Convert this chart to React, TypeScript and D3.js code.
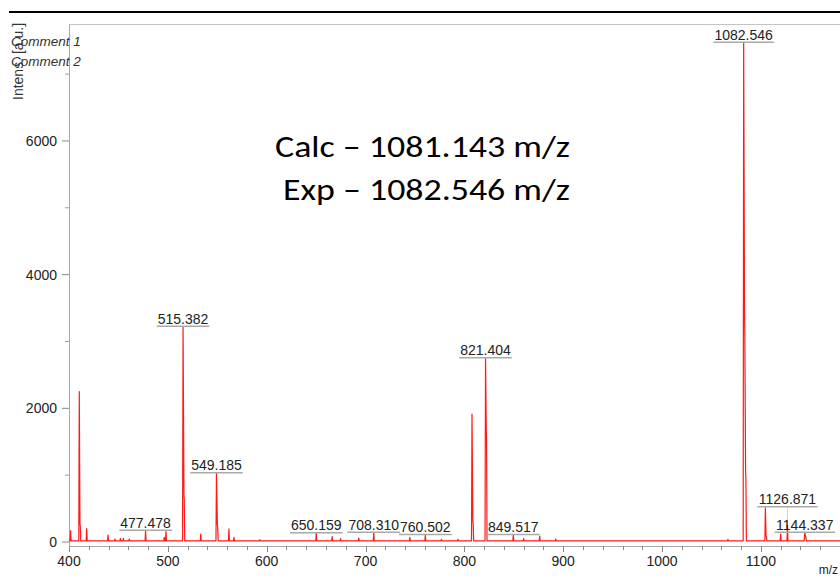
import React from 'react';
import * as d3 from 'd3';

const W = 840;
const H = 576;

// Labelled peaks: m/z and intensity (a.u.)
const labelMz = [477.478, 515.382, 549.185, 650.159, 708.31, 760.502, 821.404, 849.517, 1082.546, 1126.871, 1144.337];
const labelIntensity = [170, 3220, 1028, 130, 140, 105, 2748, 105, 7470, 250, 140];
// Extra upward shift (px) for labels moved to avoid a neighbour
const labelLift = [0, 0, 0, 0, 0, 0, 0, 0, 0, 18, 0];

// Unlabelled peaks
const minorMz = [401.6, 410.4, 417.9, 439.5, 446.5, 452.0, 455.0, 461.0, 496.4, 498.1, 533.3, 561.8, 566.9, 593.0, 666.2, 674.7, 693.2, 744.8, 776.8, 793.6, 807.7, 860.0, 876.2, 892.4, 1066.6, 1104.5, 1120.0];
const minorIntensity = [170, 2250, 200, 105, 45, 55, 55, 45, 70, 155, 120, 195, 70, 35, 80, 50, 60, 70, 40, 40, 1915, 50, 90, 45, 40, 510, 120];

// Isotope shoulders on the trailing edge of peaks
const shoulderMz = [411.2, 516.4, 550.2, 808.7, 822.2, 1083.5, 1084.6, 1105.3, 1145.3];
const shoulderIntensity = [270, 700, 260, 300, 1740, 3470, 1050, 90, 80];

const yTicks = [0, 2000, 4000, 6000];
const yMinorTicks = [1000, 3000, 5000, 7000];
const xTicks = [400, 500, 600, 700, 800, 900, 1000, 1100];

const BASELINE = 18;

const x = d3.scaleLinear().domain([400, 1180]).range([69, 840]);
const y = d3.scaleLinear().domain([0, 7000]).range([542, 74.1]);

type Pt = [number, number];

function buildTrace(): Pt[] {
  const apexes: Pt[] = [
    ...labelMz.map((m, i) => [m, labelIntensity[i]] as Pt),
    ...minorMz.map((m, i) => [m, minorIntensity[i]] as Pt),
  ].sort((a, b) => a[0] - b[0]);
  const shoulders: Pt[] = shoulderMz.map((m, i) => [m, shoulderIntensity[i]] as Pt);
  const pts: Pt[] = [[400, BASELINE]];
  apexes.forEach(([m, h]) => {
    const tail = shoulders.filter(([s]) => s > m && s < m + 2.2);
    pts.push([m - 0.5, BASELINE], [m, h]);
    tail.forEach(([s, sh]) => pts.push([s - 0.1, sh], [s + 0.2, sh * 0.9]));
    const end = tail.length ? tail[tail.length - 1][0] + 0.7 : m + 0.5;
    pts.push([end, BASELINE]);
  });
  pts.push([1180, BASELINE]);
  return pts;
}

const FONT = "'Liberation Sans', Arial, Helvetica, sans-serif";

function labelWidth(s: string, size: number) {
  let w = 0;
  for (const c of s) w += c === '.' ? 0.278 : 0.556;
  return w * size;
}

export default function App() {
  const trace = buildTrace();
  const line = d3
    .line<Pt>()
    .x((d) => x(d[0]))
    .y((d) => y(d[1]));
  const xMinor = d3.range(400, 1181, 20);

  return (
    <svg
      width={W}
      height={H}
      style={{ position: 'absolute', left: 0, top: 0, background: '#fff' }}
      fontFamily={FONT}
    >
      <rect width={W} height={H} fill="#fff" />
      {/* header rule */}
      <line x1={9} x2={840} y1={12} y2={12} stroke="#000" strokeWidth={2} />

      {/* plot frame */}
      <line x1={69} x2={840} y1={24.5} y2={24.5} stroke="#c4c4c4" strokeWidth={1} />
      <line x1={69.5} x2={69.5} y1={24} y2={546} stroke="#a8a8a8" strokeWidth={1} />
      <line x1={69} x2={840} y1={546.5} y2={546.5} stroke="#a8a8a8" strokeWidth={1} />

      {/* y axis */}
      {yTicks.map((t) => (
        <g key={'y' + t}>
          <line x1={62} x2={69} y1={y(t)} y2={y(t)} stroke="#888" strokeWidth={1} />
          <text x={57} y={y(t) + 5} textAnchor="end" fontSize={14} fill="#222">
            {t}
          </text>
        </g>
      ))}
      {yMinorTicks.map((t) => (
        <line key={'ym' + t} x1={65} x2={69} y1={y(t)} y2={y(t)} stroke="#999" strokeWidth={1} />
      ))}

      {/* x axis */}
      {xMinor.map((t) => {
        const major = t % 100 === 0;
        const xx = Math.round(x(t)) + 0.5;
        return (
          <line key={'xm' + t} x1={xx} x2={xx} y1={546} y2={major ? 552 : 550} stroke="#888" strokeWidth={1} />
        );
      })}
      {xTicks.map((t) => (
        <text key={'xt' + t} x={x(t)} y={566} textAnchor="middle" fontSize={14} fill="#222">
          {t}
        </text>
      ))}
      <text x={838} y={574} textAnchor="end" fontSize={12} fill="#222">
        m/z
      </text>

      {/* axis title and comments */}
      <text transform="translate(23,100) rotate(-90)" fontSize={14} fill="#333">
        Intens. [a.u.]
      </text>
      <text x={11} y={45.5} fontSize={13.5} fontStyle="italic" fill="#333">
        Comment 1
      </text>
      <text x={11} y={66} fontSize={13.5} fontStyle="italic" fill="#333">
        Comment 2
      </text>

      {/* spectrum */}
      <path d={line(trace) || ''} fill="none" stroke="#ff1a1a" strokeWidth={1.2} strokeLinejoin="round" />

      {/* peak labels */}
      {labelMz.map((m, i) => {
        const px = x(m);
        const peakY = y(labelIntensity[i]);
        const ly = peakY - labelLift[i];
        const txt = m.toFixed(3);
        const w = labelWidth(txt, 14);
        return (
          <g key={'lab' + i}>
            {labelLift[i] > 0 && (
              <line
                x1={px}
                x2={px}
                y1={ly}
                y2={peakY}
                stroke="#aaa"
                strokeWidth={1}
                strokeDasharray="1,1"
              />
            )}
            <line x1={px - w / 2 - 1} x2={px + w / 2 + 1} y1={ly - 0.5} y2={ly - 0.5} stroke="#aaa" strokeWidth={1.5} />
            <text x={px} y={ly - 3} textAnchor="middle" fontSize={14} fill="#222">
              {txt}
            </text>
          </g>
        );
      })}

      {/* annotation */}
      <g fontFamily="Carlito, Lato, 'Open Sans', sans-serif" fontSize={31} fill="#000">
        <text x={570} y={157} textAnchor="end" textLength={295} lengthAdjust="spacingAndGlyphs">
          Calc – 1081.143 m/z
        </text>
        <text x={570} y={200} textAnchor="end" textLength={287} lengthAdjust="spacingAndGlyphs">
          Exp – 1082.546 m/z
        </text>
      </g>
    </svg>
  );
}
